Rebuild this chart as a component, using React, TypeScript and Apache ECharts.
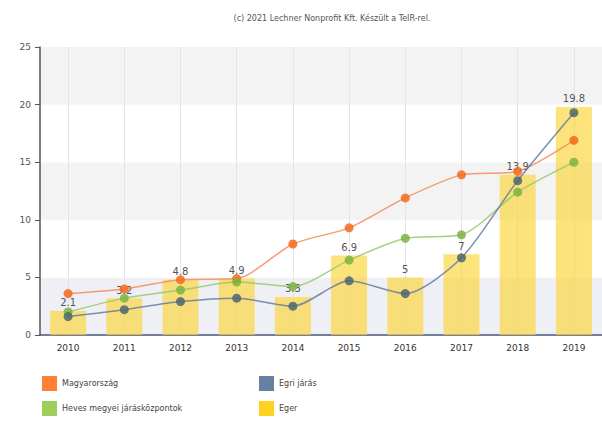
import React, { useEffect, useRef } from "react";
import * as echarts from "echarts";

const years = ["2010", "2011", "2012", "2013", "2014", "2015", "2016", "2017", "2018", "2019"];
const magyarorszag = [3.6, 4.0, 4.8, 4.9, 7.9, 9.3, 11.9, 13.9, 14.2, 16.9];
const hevesJarasKozpontok = [2.0, 3.2, 3.9, 4.6, 4.2, 6.5, 8.4, 8.7, 12.4, 15.0];
const egriJaras = [1.6, 2.2, 2.9, 3.2, 2.5, 4.7, 3.6, 6.7, 13.4, 19.3];
const eger = [2.1, 3.2, 4.8, 4.9, 3.3, 6.9, 5, 7, 13.9, 19.8];
const yTicks = [0, 5, 10, 15, 20, 25];
const titleText = "(c) 2021 Lechner Nonprofit Kft. Készült a TeIR-rel.";

const FONT = "DejaVu Sans";

export default function App() {
  const ref = useRef<HTMLDivElement>(null);
  useEffect(() => {
    if (!ref.current) return;
    const chart = echarts.init(ref.current, undefined, { renderer: "svg" });
    const lineSeries = (name: string, data: number[], line: string, marker: string) => ({
      name,
      type: "line",
      data,
      smooth: 0.25,
      z: 3,
      symbol: "circle",
      symbolSize: 9,
      lineStyle: { color: line, width: 1.5 },
      itemStyle: { color: marker, opacity: 0.85 },
    });
    const legendBase = {
      top: 376,
      height: 44,
      padding: 0,
      orient: "vertical",
      icon: "rect",
      itemWidth: 15,
      itemHeight: 15,
      itemGap: 10,
      textStyle: { fontSize: 8, color: "#444", fontFamily: FONT },
    };
    chart.setOption({
      animation: false,
      textStyle: { fontFamily: FONT },
      graphic: [
        {
          type: "text",
          x: 332,
          y: 14,
          style: { text: titleText, fontSize: 8, fill: "#555", textAlign: "center", fontFamily: FONT },
        },
      ],
      legend: [
        {
          ...legendBase,
          left: 42,
          data: [
            { name: "Magyarország", itemStyle: { color: "#FF6A10" } },
            { name: "Heves megyei járásközpontok", itemStyle: { color: "#8CC63F" } },
          ],
        },
        {
          ...legendBase,
          left: 259,
          data: [
            { name: "Egri járás", itemStyle: { color: "#4D6A8E" } },
            { name: "Eger", itemStyle: { color: "#FFD21F" } },
          ],
        },
      ],
      grid: { left: 40, top: 47, width: 572, height: 288 },
      xAxis: {
        type: "category",
        data: years,
        axisLine: { lineStyle: { color: "#4a5478", width: 1.5 } },
        axisTick: { alignWithLabel: true, length: 4, lineStyle: { color: "#555" } },
        axisLabel: { fontSize: 9, color: "#333", margin: 8, fontFamily: FONT },
        splitLine: { show: true, alignWithLabel: true, lineStyle: { color: "#e4e4e4" } },
      },
      yAxis: {
        type: "value",
        min: 0,
        max: 25,
        interval: 5,
        axisLine: { show: true, lineStyle: { color: "#555", width: 1.5 } },
        axisTick: { show: true, length: 5, lineStyle: { color: "#555" } },
        axisLabel: {
          fontSize: 9,
          color: "#555",
          margin: 9,
          fontFamily: FONT,
          formatter: (v: number) => (yTicks.includes(v) ? String(v) : ""),
        },
        splitLine: { show: false },
        splitArea: {
          show: true,
          areaStyle: { color: ["#eef0f6", "#ffffff", "#f3f3f3", "#ffffff", "#f3f3f3"] },
        },
      },
      series: [
        {
          name: "Eger",
          type: "bar",
          data: eger,
          barWidth: 36,
          z: 1,
          itemStyle: { color: "rgba(250, 214, 60, 0.68)" },
          label: {
            show: true,
            position: "top",
            distance: 3,
            fontSize: 10,
            color: "#555",
            fontFamily: FONT,
          },
        },
        lineSeries("Magyarország", magyarorszag, "rgba(245,140,90,0.85)", "#F26B1D"),
        lineSeries("Heves megyei járásközpontok", hevesJarasKozpontok, "rgba(150,200,110,0.85)", "#7CB342"),
        lineSeries("Egri járás", egriJaras, "rgba(100,125,160,0.85)", "#4D6670"),
      ],
    });
    return () => chart.dispose();
  }, []);
  return <div ref={ref} style={{ width: 602, height: 421, position: "absolute", left: 0, top: 0 }} />;
}
